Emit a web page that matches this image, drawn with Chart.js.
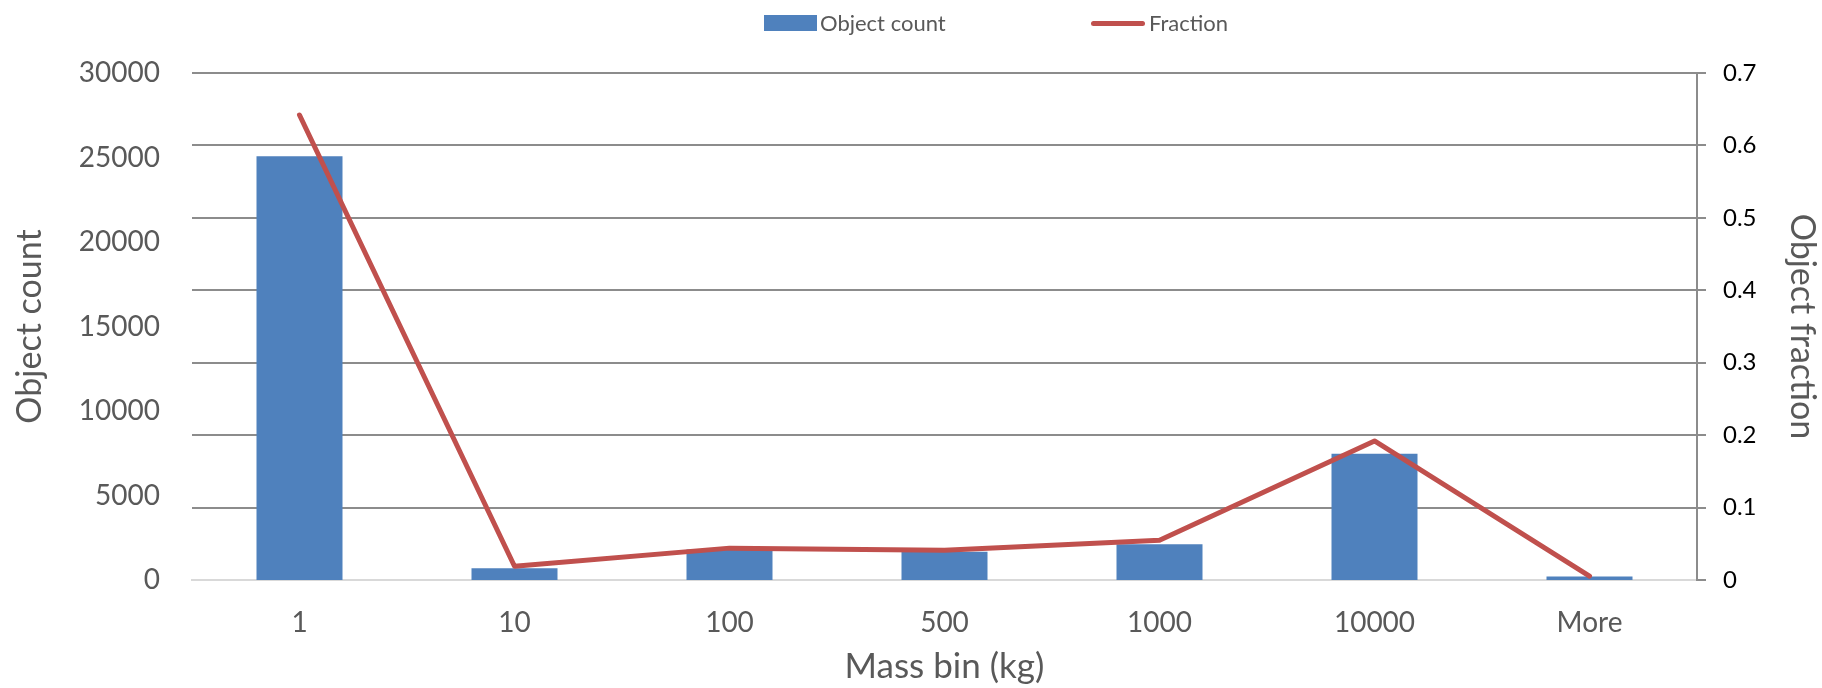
<!DOCTYPE html>
<html>
<head>
<meta charset="utf-8">
<title>Object count by mass bin</title>
<script src="https://cdn.jsdelivr.net/npm/chart.js@4.4.1/dist/chart.umd.min.js"></script>
<style>
    body { margin: 0; background: #fff; }
    #wrap { position: relative; width: 1822px; height: 688px; }
    #chart { position: absolute; left: 0; top: 0; }
    .legend-item {
        position: absolute;
        top: 9px;
        font-family: Lato, sans-serif;
        font-size: 22px;
        line-height: 28px;
        color: #595959;
        white-space: nowrap;
    }
    .legend-swatch { position: absolute; }
</style>
</head>
<body>
<div id="wrap">
    <canvas id="chart" width="1822" height="688"></canvas>
    <div class="legend-swatch" style="left:764px; top:15px; width:53px; height:16px; background:#4F81BD;"></div>
    <div class="legend-item" style="left:820px;">Object count</div>
    <div class="legend-swatch" style="left:1091px; top:21px; width:54px; height:5px; border-radius:3px; background:#C0504D;"></div>
    <div class="legend-item" style="left:1149px;">Fraction</div>
</div>
<script>
// mass bins (kg) and the two series
const massBins = ['1', '10', '100', '500', '1000', '10000', 'More'];
const objectCounts = [25080, 700, 1810, 1670, 2120, 7470, 210];
const objectFractions = [0.642, 0.019, 0.044, 0.041, 0.055, 0.192, 0.0055];

const countTicks = { min: 0, max: 30000, step: 5000 };
const fractionTicks = { min: 0, max: 0.7, step: 0.1 };

document.addEventListener('DOMContentLoaded', () => {
    Chart.defaults.font.family = 'Lato, sans-serif';
    Chart.defaults.color = '#595959';

    const grey = '#8c8c8c';
    const ctx = document.getElementById('chart').getContext('2d');

    new Chart(ctx, {
        data: {
            labels: massBins,
            datasets: [
                {
                    type: 'line',
                    label: 'Fraction',
                    data: objectFractions,
                    yAxisID: 'y1',
                    borderColor: '#C0504D',
                    backgroundColor: '#C0504D',
                    borderWidth: 5,
                    borderCapStyle: 'round',
                    borderJoinStyle: 'round',
                    pointRadius: 0,
                    tension: 0,
                    order: 0
                },
                {
                    type: 'bar',
                    label: 'Object count',
                    data: objectCounts,
                    yAxisID: 'y',
                    backgroundColor: '#4F81BD',
                    borderWidth: 0,
                    categoryPercentage: 1,
                    barPercentage: 0.4,
                    order: 1
                }
            ]
        },
        options: {
            responsive: false,
            animation: false,
            devicePixelRatio: 1,
            layout: { padding: { top: 73, left: 0, right: 0, bottom: 0 } },
            plugins: {
                legend: { display: false },
                tooltip: { enabled: false }
            },
            scales: {
                x: {
                    afterFit: (s) => { s.height = 108; },
                    grid: { display: false, drawTicks: false },
                    border: { display: true, color: '#d9d9d9', width: 2 },
                    ticks: { padding: 26, font: { size: 28 }, color: '#595959' },
                    title: {
                        display: true,
                        text: 'Mass bin (kg)',
                        font: { size: 35 },
                        color: '#595959',
                        padding: { top: 0, bottom: 0 }
                    }
                },
                y: {
                    position: 'left',
                    afterFit: (s) => { s.width = 192; },
                    min: countTicks.min,
                    max: countTicks.max,
                    grid: { display: false, drawTicks: false },
                    border: { display: false },
                    ticks: {
                        stepSize: countTicks.step,
                        padding: 32,
                        font: { size: 28 },
                        color: '#595959',
                        callback: (v) => String(v)
                    },
                    title: {
                        display: true,
                        text: 'Object count',
                        font: { size: 34 },
                        color: '#595959',
                        padding: { top: 10, bottom: 0 }
                    }
                },
                y1: {
                    position: 'right',
                    afterFit: (s) => { s.width = 125; },
                    min: fractionTicks.min,
                    max: fractionTicks.max,
                    grid: {
                        color: (c) => (c.tick && c.tick.value === 0 ? '#d9d9d9' : grey),
                        tickColor: grey,
                        lineWidth: 2,
                        tickLength: 9
                    },
                    border: { display: true, color: grey, width: 2 },
                    ticks: { stepSize: fractionTicks.step, padding: 17, font: { size: 24 }, color: '#000000' },
                    title: {
                        display: true,
                        text: 'Object fraction',
                        font: { size: 34 },
                        color: '#595959',
                        padding: { top: 0, bottom: 0 }
                    }
                }
            }
        }
    });
});
</script>
</body>
</html>
